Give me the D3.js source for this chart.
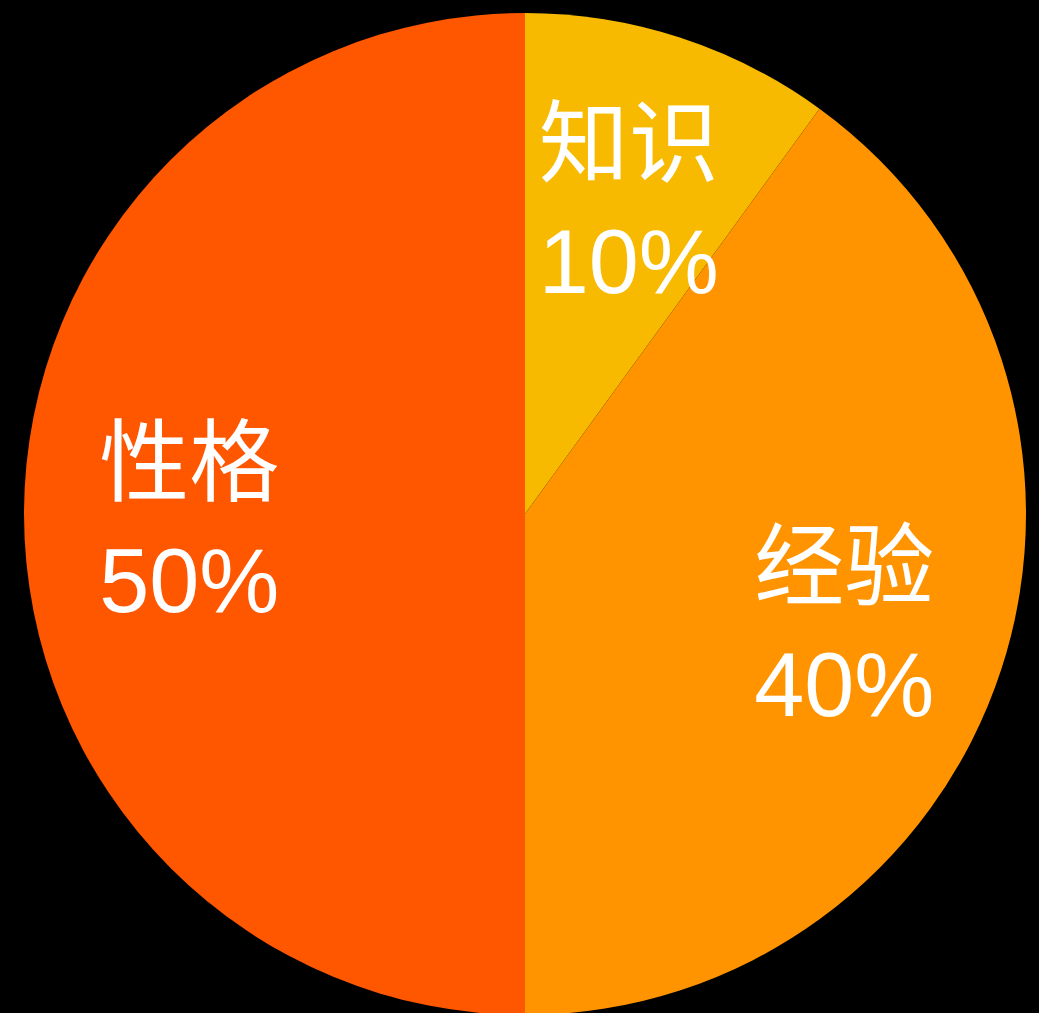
<!DOCTYPE html>
<html>
<head>
<meta charset="utf-8">
<script src="https://cdn.jsdelivr.net/npm/d3@7"></script>
<style>
  html, body { margin: 0; padding: 0; background: #000; overflow: hidden; }
  .label { font-family: "Liberation Sans", "Noto Sans CJK SC", sans-serif; fill: #fff; }
</style>
</head>
<body>
<div id="app"></div>
<script>
const categories = ['知识', '经验', '性格'];
const values = [10, 40, 50];
const colors = ['#F7BA00', '#FF9400', '#FF5600'];

const w = 1039;
const h = 1013;
const cx = 525;
const cy = 514;
const radius = 501;

const svg = d3.select('#app')
  .append('svg')
  .attr('width', w)
  .attr('height', h)
  .style('display', 'block')
  .style('background', '#000');

const g = svg.append('g')
  .attr('transform', 'translate(' + cx + ',' + cy + ')');

const pie = d3.pie().sort(null).value((d) => d.value);
const data = pie(categories.map((c, i) => ({ name: c, value: values[i], color: colors[i] })));

const arc = d3.arc().innerRadius(0).outerRadius(radius);
// labels sit about two thirds of the way out
const labelArc = d3.arc().innerRadius(radius * 0.67).outerRadius(radius * 0.67);

g.selectAll('path')
  .data(data)
  .enter()
  .append('path')
  .attr('d', arc)
  .style('fill', (d) => d.data.color);

const labels = g.selectAll('text')
  .data(data)
  .enter()
  .append('text')
  .attr('class', 'label')
  .attr('text-anchor', 'middle')
  .style('font-size', '90px')
  .attr('transform', (d) => 'translate(' + labelArc.centroid(d) + ')');

labels.append('tspan')
  .attr('x', 0)
  .attr('y', -20)
  .style('font-family', '"Noto Sans CJK SC", sans-serif')
  .text((d) => d.data.name);

labels.append('tspan')
  .attr('x', 0)
  .attr('y', 98)
  .text((d) => d.data.value + '%');
</script>
</body>
</html>
